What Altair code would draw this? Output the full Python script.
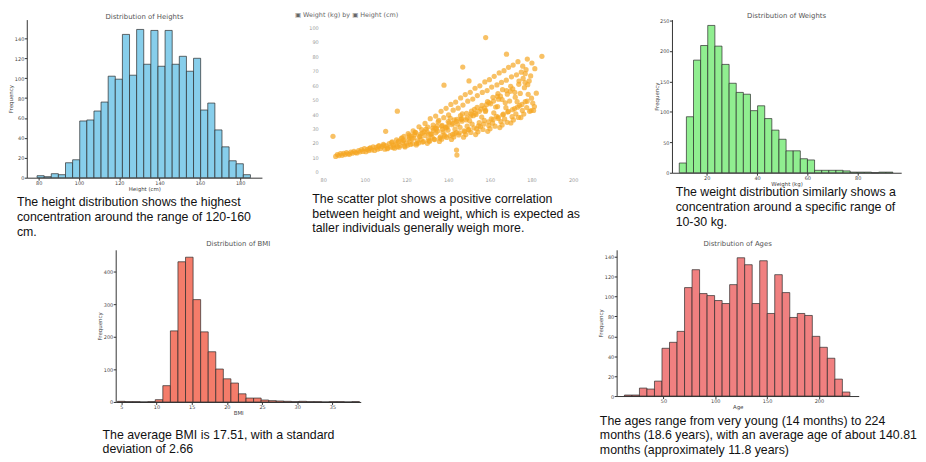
import altair as alt
import pandas as pd

# ---------------- data ----------------
height_bin_start = 79.2
height_bin_width = 3.53
height_counts = [2, 1, 4, 3, 15, 18, 57, 58, 67, 76, 102, 99, 144, 103, 149,
                 114, 148, 112, 148, 114, 122, 107, 120, 68, 75, 48, 31, 17, 14, 3]

weight_bin_start = 9.1
weight_bin_width = 2.83
weight_counts = [16, 92, 185, 209, 242, 208, 178, 147, 132, 129, 102, 110, 89, 70, 55,
                 36, 36, 23, 21, 4, 4, 4, 4, 3, 1, 1, 1, 0, 1, 1]

bmi_bin_start = 4.45
bmi_bin_width = 1.075
bmi_counts = [2, 1, 1, 0, 1, 7, 50, 218, 430, 444, 314, 215, 154, 101, 71, 58,
              25, 12, 12, 6, 4, 3, 2, 1, 2, 1, 1, 0, 1, 1, 0, 1]

age_bin_start = 12.4
age_bin_width = 7.25
age_counts = [1, 1, 8, 7, 15, 48, 54, 65, 109, 127, 103, 101, 96, 93, 112,
              139, 132, 93, 136, 83, 122, 104, 79, 83, 81, 60, 49, 38, 17, 4]

scatter_height = [
    86.0, 86.8, 87.6, 88.3,
    89.1, 89.8, 90.5, 91.2, 91.9,
    92.6, 93.3, 94.0, 94.8, 95.5,
    96.2, 97.0, 97.7, 98.4, 99.1, 99.8,
    100.5, 101.2, 101.9, 102.6, 103.3, 104.0,
    104.7, 105.4, 106.1, 106.8, 107.5, 108.2, 108.9,
    109.6, 110.3, 111.0, 111.7, 112.4, 113.1, 113.8,
    114.3, 114.9, 115.6, 116.2, 116.9, 117.5, 118.1, 118.8,
    119.3, 119.9, 120.5, 121.1, 121.7, 122.3, 122.9, 123.5, 124.1,
    124.7, 125.2, 125.8, 126.4, 127.0, 127.6, 128.2, 128.8, 129.4,
    130.0, 130.5, 131.1, 131.7, 132.3, 132.9, 133.5, 134.1, 134.7, 135.2,
    135.8, 136.3, 136.9, 137.5, 138.1, 138.7, 139.3, 139.9, 140.5, 141.0,
    141.6, 142.1, 142.7, 143.3, 143.9, 144.5, 145.1, 145.7, 146.3, 146.8,
    147.4, 147.9, 148.5, 149.1, 149.7, 150.3, 150.9, 151.5, 152.1, 152.6,
    153.2, 153.7, 154.3, 154.9, 155.5, 156.1, 156.7, 157.3, 157.9, 158.4,
    159.0, 159.5, 160.1, 160.7, 161.3, 161.9, 162.5, 163.1, 163.7, 164.2,
    164.8, 165.3, 165.9, 166.5, 167.1, 167.7, 168.3, 168.9, 169.5,
    170.1, 170.7, 171.3, 171.9, 172.5, 173.1, 173.7, 174.3,
    174.9, 175.6, 176.3, 177.0, 177.7, 178.4, 179.1,
    179.8, 180.6, 181.4, 182.3,
    120.8, 123.2, 126.0, 128.9, 131.4, 134.0, 136.6, 139.0, 141.3, 143.6, 146.0, 148.2, 150.6,
    152.9, 155.2, 157.6, 159.8, 162.1, 164.5, 166.8, 169.0, 171.2, 173.5, 175.8, 178.0, 180.2,
    115.2, 117.8, 121.4, 124.4, 127.3, 130.2, 132.8, 135.5, 137.9, 140.2, 142.4, 144.8, 147.1, 149.4,
    151.8, 154.0, 156.4, 158.7, 160.9, 163.4, 165.6, 167.9, 170.4, 172.8, 175.1, 177.4, 179.6, 181.6,
    110.8, 113.5, 116.5, 119.0, 121.9, 124.9, 127.7, 130.8, 133.2, 136.0, 138.4, 140.8, 143.0, 145.4, 147.6,
    150.0, 152.4, 154.6, 157.0, 159.3, 161.6, 164.0, 166.2, 168.6, 170.9, 173.3, 175.4, 177.9, 180.0,
    118.4, 122.7, 126.7, 129.9, 133.8, 137.1, 140.0, 142.9, 145.9, 148.8, 151.2,
    153.9, 156.2, 158.9, 161.5, 163.9, 166.1, 168.4, 171.0, 173.9, 176.6, 178.9,
    131.9, 134.4, 137.3, 139.6, 142.2, 144.2, 146.6, 149.0, 151.0, 153.4,
    155.8, 158.0, 160.4, 162.8, 165.1, 167.4, 169.8, 172.2, 174.6, 176.9,
    102.3, 106.5, 109.2, 112.9, 115.9, 118.7, 121.3, 123.9, 126.3, 128.5, 130.7, 132.6,
    134.9, 136.9, 139.1, 141.9, 144.0, 146.4, 148.6, 150.8, 153.0, 155.0, 157.4, 159.6,
    161.8, 163.6, 165.9, 168.0, 170.0, 172.0, 174.0, 176.0, 178.2,
    84.7, 110.0, 115.6, 138.0, 144.2, 144.0, 147.0, 150.0, 158.0, 164.0, 168.0, 177.0, 181.0, 185.0,
]
scatter_weight = [
    10.6, 11.9, 11.2, 12.6,
    11.4, 12.8, 11.9, 13.3, 12.4,
    12.1, 13.6, 12.9, 14.2, 13.3,
    13.0, 14.6, 13.8, 15.4, 14.1, 16.0,
    13.9, 15.5, 14.7, 16.6, 15.1, 17.2,
    14.8, 16.9, 15.6, 18.1, 16.2, 17.5, 19.0,
    15.6, 17.9, 16.4, 19.6, 17.1, 20.7, 18.4,
    16.3, 19.0, 17.4, 21.3, 18.2, 22.9, 20.1, 24.6,
    17.2, 19.8, 18.4, 22.6, 21.0, 24.8, 19.5, 23.4, 27.3,
    18.6, 21.4, 20.0, 24.2, 22.5, 26.8, 20.9, 25.1, 29.6,
    19.7, 22.8, 21.2, 25.9, 24.0, 28.7, 22.3, 27.0, 31.8, 34.6,
    21.0, 24.2, 22.6, 27.6, 25.6, 30.9, 23.8, 28.8, 33.9, 37.2,
    22.4, 25.9, 24.1, 29.5, 27.2, 33.0, 25.5, 30.8, 36.3, 40.1,
    24.0, 27.7, 25.8, 31.6, 29.1, 35.3, 27.3, 33.1, 38.9, 43.2,
    25.8, 29.7, 27.7, 34.0, 31.2, 37.9, 29.3, 35.6, 41.8, 46.5,
    28.0, 32.0, 29.9, 36.7, 33.7, 40.9, 31.6, 38.4, 45.2, 50.3,
    30.6, 34.8, 32.5, 39.9, 36.6, 44.4, 34.3, 41.8, 49.0,
    33.8, 38.2, 35.9, 43.8, 40.2, 48.6, 37.7, 45.9,
    37.6, 42.5, 40.0, 48.6, 44.5, 53.7, 41.9,
    42.4, 47.6, 45.2, 54.5,
    26.5, 28.4, 31.2, 33.5, 36.8, 38.6, 41.9, 44.0, 46.7, 48.3, 51.2, 53.5, 55.1,
    57.9, 59.6, 62.3, 63.8, 66.2, 68.5, 70.1, 72.4, 74.0, 76.3, 73.2, 78.1, 75.4,
    22.1, 23.5, 25.4, 27.1, 29.3, 31.0, 32.4, 35.7, 37.5, 39.4, 42.7, 44.1, 46.2, 48.9,
    50.4, 52.8, 55.0, 56.3, 58.7, 60.2, 61.9, 63.5, 65.8, 67.2, 69.0, 70.8, 66.4, 71.5,
    16.0, 16.8, 17.0, 17.9, 18.9, 19.6, 20.6, 21.4, 22.7, 23.3, 24.6, 25.1, 26.4, 27.0, 28.3,
    29.2, 30.5, 31.8, 33.0, 34.6, 36.2, 37.9, 39.5, 41.4, 43.0, 44.8, 46.7, 48.9, 51.0,
    21.6, 23.0, 26.1, 27.6, 30.2, 32.1, 34.8, 35.9, 38.9, 40.4, 42.0,
    44.6, 46.0, 48.7, 51.6, 54.2, 56.9, 53.8, 57.5, 60.6, 58.3, 63.0,
    26.3, 29.9, 29.4, 31.3, 33.6, 36.4, 35.1, 37.2, 40.0, 39.7,
    43.5, 42.6, 47.1, 44.9, 52.4, 47.8, 55.8, 51.7, 54.3, 61.8,
    16.2, 17.6, 18.3, 20.2, 20.6, 22.0, 24.1, 25.7, 24.6, 27.9, 26.1, 30.3,
    28.2, 31.6, 30.4, 32.6, 35.0, 36.9, 36.0, 38.6, 40.6, 41.9, 44.2, 47.9,
    49.0, 52.2, 50.1, 56.3, 59.2, 55.1, 62.9, 64.7, 60.4,
    24.6, 28.0, 42.0, 60.0, 11.6, 15.0, 72.6, 63.0, 93.0, 37.0, 81.5, 68.0, 42.5, 80.0,
]

captions = {
    "height": "The height distribution shows the highest\nconcentration around the range of 120-160\ncm.",
    "scatter": "The scatter plot shows a positive correlation\nbetween height and weight, which is expected as\ntaller individuals generally weigh more.",
    "weight": "The weight distribution similarly shows a\nconcentration around a specific range of\n10-30 kg.",
    "bmi": "The average BMI is 17.51, with a standard\ndeviation of 2.66",
    "age": "The ages range from very young (14 months) to 224\nmonths (18.6 years), with an average age of about 140.81\nmonths (approximately 11.8 years)",
}

# ---------------- helpers ----------------
AX = dict(labelFontSize=5, titleFontSize=5.5, labelColor="#444", titleColor="#444",
          domainColor="#333", tickColor="#333", tickSize=2.5, labelPadding=0.5, titlePadding=0.5,
          titleFontWeight="normal", grid=False, labelFont="DejaVu Sans", titleFont="DejaVu Sans")


def hist_df(start, width, counts):
    return pd.DataFrame({
        "left": [start + i * width for i in range(len(counts))],
        "right": [start + (i + 1) * width for i in range(len(counts))],
        "count": counts,
    })


def caption_layer(text, dx, dy):
    return alt.Chart(pd.DataFrame({"t": [text]})).mark_text(
        align="left", baseline="alphabetic", font="Liberation Sans", fontSize=12.5,
        lineHeight=14.8, lineBreak="\n", color="#111"
    ).encode(text="t:N", x=alt.value(dx), y=alt.value(dy))


def hist_panel(df, color, title, xtitle, xdom, xticks, ydom, yticks, w, h, toff, cap, cdx, cdy):
    bars = alt.Chart(df).mark_bar(color=color, stroke="#2a2a2a", strokeWidth=0.7).encode(
        x=alt.X("left:Q", scale=alt.Scale(domain=xdom, nice=False, zero=False),
                axis=alt.Axis(values=xticks, title=xtitle, **AX)),
        x2="right:Q",
        y=alt.Y("count:Q", scale=alt.Scale(domain=ydom, nice=False),
                axis=alt.Axis(values=yticks, title="Frequency", **AX)),
        y2=alt.datum(0),
    )
    return alt.layer(bars, caption_layer(cap, cdx, cdy)).properties(
        width=w, height=h,
        title=alt.TitleParams(text=title, fontSize=7, font="DejaVu Sans", fontWeight="normal",
                              color="#555", offset=toff),
    )


def spacer(w, h):
    return alt.Chart(pd.DataFrame({"v": [0]})).mark_point(opacity=0, size=1).encode(
        x=alt.value(0), y=alt.value(0)).properties(width=w, height=h)


heights = hist_panel(hist_df(height_bin_start, height_bin_width, height_counts), "#87CEEB",
                     "Distribution of Heights", "Height (cm)", [74.1, 190.8],
                     [80, 100, 120, 140, 160, 180], [0, 158.9], [0, 20, 40, 60, 80, 100, 120, 140],
                     238, 160, 0, captions["height"], -10, 189)

weights = hist_panel(hist_df(weight_bin_start, weight_bin_width, weight_counts), "#90EE90",
                     "Distribution of Weights", "Weight (kg)", [6.2, 97.3],
                     [20, 40, 60, 80], [0, 251.6], [0, 50, 100, 150, 200, 250],
                     232, 155, 0, captions["weight"], 3.7, 179)

bmi = hist_panel(hist_df(bmi_bin_start, bmi_bin_width, bmi_counts), "#F47C6A",
                 "Distribution of BMI", "BMI", [4.2, 39.03],
                 [5, 10, 15, 20, 25, 30, 35], [0, 466.7], [0, 100, 200, 300, 400],
                 248, 154, 3, captions["bmi"], -13.3, 191.3)

ages = hist_panel(hist_df(age_bin_start, age_bin_width, age_counts), "#F08080",
                  "Distribution of Ages", "Age", [4.9, 238.4],
                  [50, 100, 150, 200], [0, 147], [0, 20, 40, 60, 80, 100, 120, 140],
                  245, 148, 3, captions["age"], -17, 177)

scatter_df = pd.DataFrame({"height": scatter_height, "weight": scatter_weight})
SAX = dict(domain=False, ticks=False, grid=False, labelFontSize=5, labelColor="#9a9a9a",
           labelFont="DejaVu Sans", title=None)
points = alt.Chart(scatter_df).mark_circle(color="#F5A623", size=28, opacity=0.7).encode(
    x=alt.X("height:Q", scale=alt.Scale(domain=[78.58, 205.7], nice=False, zero=False),
            axis=alt.Axis(values=[80, 100, 120, 140, 160, 180, 200], labelPadding=3, **SAX)),
    y=alt.Y("weight:Q", scale=alt.Scale(domain=[-2.05, 105.5], nice=False, zero=False),
            axis=alt.Axis(values=[0, 10, 20, 30, 40, 50, 60, 70, 80, 90, 100], labelPadding=2, **SAX)),
)
scatter = alt.layer(points, caption_layer(captions["scatter"], -8, 185.7)).properties(
    width=268, height=157,
    title=alt.TitleParams(text="▣ Weight (kg) by ▣ Height (cm)", anchor="start", dx=-14,
                          fontSize=6.5, font="DejaVu Sans", fontWeight="normal",
                          color="#666", offset=1),
)

row1 = alt.hconcat(heights, spacer(59, 1), scatter, spacer(88, 1), weights,
                   spacing=0, bounds="flush")
row2 = alt.hconcat(spacer(90, 1), bmi, spacer(259, 1), ages,
                   spacing=0, bounds="flush")

chart = alt.vconcat(row1, row2, spacing=233, bounds="flush").configure_view(
    stroke="transparent").properties(padding=0, background="white")

chart.save("out.html", embed_options={"renderer": "svg", "actions": False})
